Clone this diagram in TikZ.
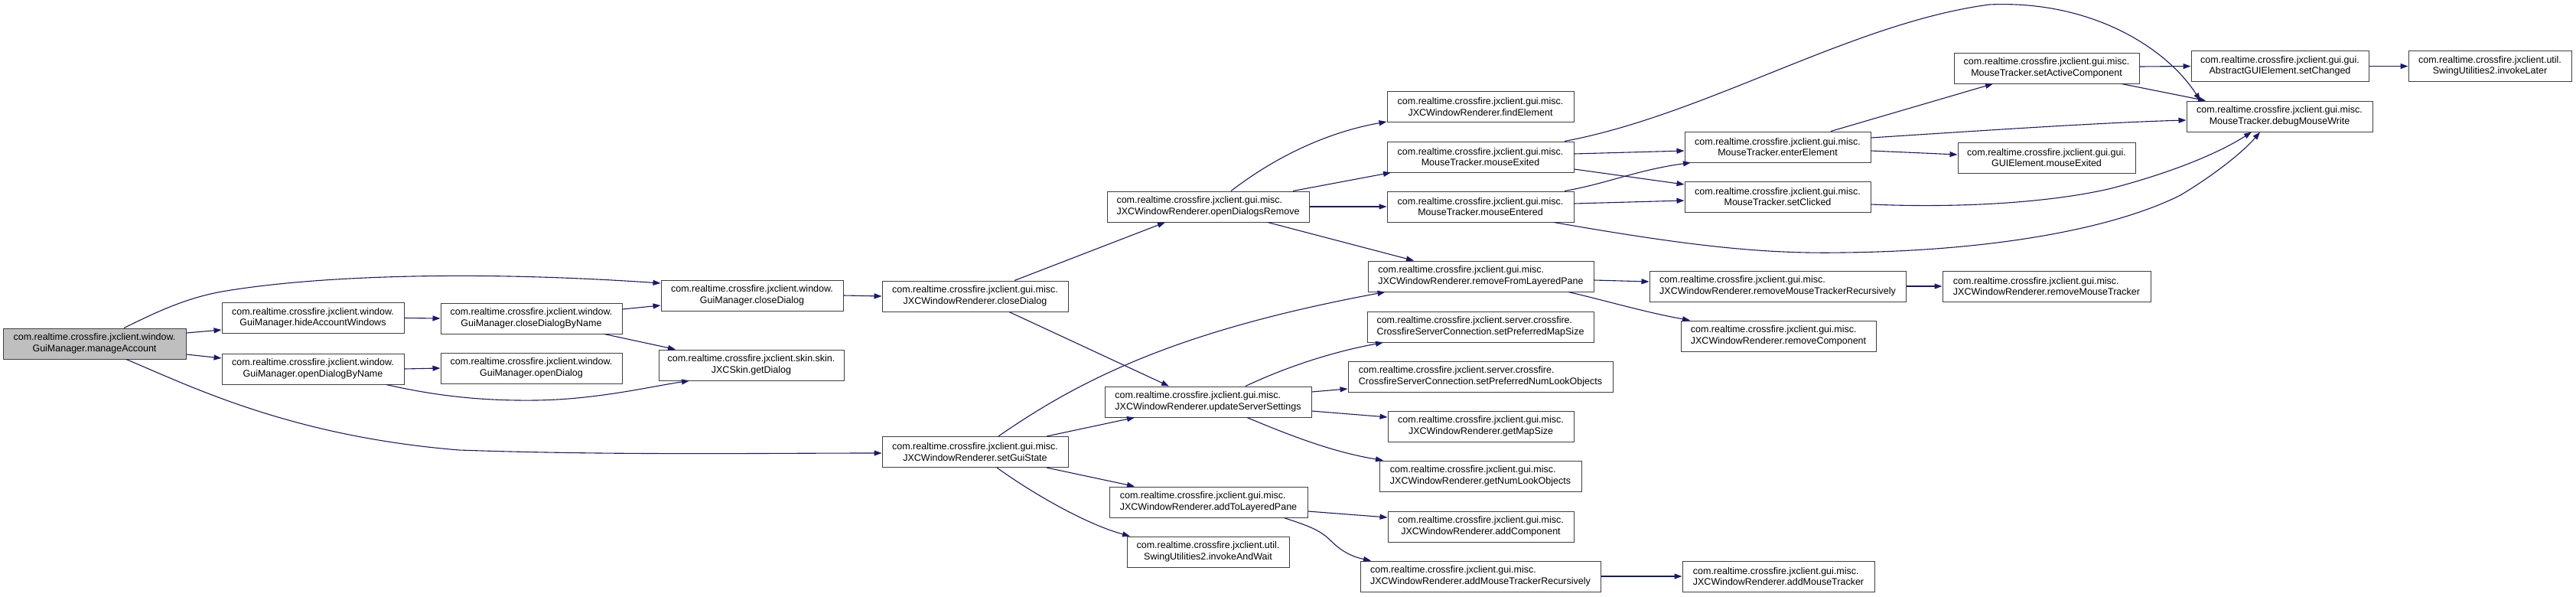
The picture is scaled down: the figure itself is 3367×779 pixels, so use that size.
\documentclass[tikz,border=0pt]{standalone}
\usepackage{fontspec}
\setmainfont{Liberation Sans}
\usetikzlibrary{arrows.meta}
\definecolor{edgec}{HTML}{191970}
\definecolor{rootfill}{HTML}{BFBFBF}
\begin{document}
\begin{tikzpicture}[x=1pt, y=-1pt,
  nbox/.style={draw=black!75, line width=1pt, fill=white, minimum height=40pt, inner sep=0pt,
    font=\fontsize{12.5}{14.5}\selectfont, align=center},
  lnbox/.style={nbox, align=left},
  rootbox/.style={nbox, fill=rootfill},
  conn/.style={draw=edgec, line width=1.1pt, -{Triangle[length=10pt,width=7pt]}}]
\useasboundingbox (0,0) rectangle (3367,779);

% column 1
\node[rootbox, minimum width=239pt] (MA) at (123.5,449) {com.realtime.crossfire.jxclient.window.\\GuiManager.manageAccount};
% column 2
\node[nbox, minimum width=238pt] (HAW) at (409,415.5) {com.realtime.crossfire.jxclient.window.\\GuiManager.hideAccountWindows};
\node[nbox, minimum width=238pt] (ODBN) at (409,482) {com.realtime.crossfire.jxclient.window.\\GuiManager.openDialogByName};
% column 3
\node[nbox, minimum width=237pt] (CDBN) at (694.5,416) {com.realtime.crossfire.jxclient.window.\\GuiManager.closeDialogByName};
\node[nbox, minimum width=237pt] (OD) at (694.5,481) {com.realtime.crossfire.jxclient.window.\\GuiManager.openDialog};
% column 4
\node[nbox, minimum width=238pt] (GMcD) at (983,386) {com.realtime.crossfire.jxclient.window.\\GuiManager.closeDialog};
\node[nbox, minimum width=242pt] (GD) at (982,477) {com.realtime.crossfire.jxclient.skin.skin.\\JXCSkin.getDialog};
% column 5
\node[nbox, minimum width=243pt] (JcD) at (1274.5,387) {com.realtime.crossfire.jxclient.gui.misc.\\JXCWindowRenderer.closeDialog};
\node[nbox, minimum width=243pt] (SGS) at (1274.5,590.5) {com.realtime.crossfire.jxclient.gui.misc.\\JXCWindowRenderer.setGuiState};
% column 6
\node[lnbox, minimum width=264pt] (ODR) at (1579,270) {com.realtime.crossfire.jxclient.gui.misc.\\JXCWindowRenderer.openDialogsRemove};
\node[lnbox, minimum width=270pt] (USS) at (1579,525) {com.realtime.crossfire.jxclient.gui.misc.\\JXCWindowRenderer.updateServerSettings};
\node[lnbox, minimum width=259pt] (ATLP) at (1579.5,656) {com.realtime.crossfire.jxclient.gui.misc.\\JXCWindowRenderer.addToLayeredPane};
\node[nbox, minimum width=212pt] (IAW) at (1579,721) {com.realtime.crossfire.jxclient.util.\\SwingUtilities2.invokeAndWait};
% column 7
\node[nbox, minimum width=244pt] (FE) at (1935,139.5) {com.realtime.crossfire.jxclient.gui.misc.\\JXCWindowRenderer.findElement};
\node[nbox, minimum width=244pt] (MEx) at (1935,205) {com.realtime.crossfire.jxclient.gui.misc.\\MouseTracker.mouseExited};
\node[nbox, minimum width=244pt] (MEn) at (1935,270) {com.realtime.crossfire.jxclient.gui.misc.\\MouseTracker.mouseEntered};
\node[lnbox, minimum width=295pt] (RFLP) at (1935.5,361) {com.realtime.crossfire.jxclient.gui.misc.\\JXCWindowRenderer.removeFromLayeredPane};
\node[lnbox, minimum width=296pt] (SPMS) at (1935,427) {com.realtime.crossfire.jxclient.server.crossfire.\\CrossfireServerConnection.setPreferredMapSize};
\node[lnbox, minimum width=346pt] (SPNLO) at (1935,492) {com.realtime.crossfire.jxclient.server.crossfire.\\CrossfireServerConnection.setPreferredNumLookObjects};
\node[nbox, minimum width=243pt] (GMS) at (1935.5,557) {com.realtime.crossfire.jxclient.gui.misc.\\JXCWindowRenderer.getMapSize};
\node[lnbox, minimum width=264pt] (GNLO) at (1935,622) {com.realtime.crossfire.jxclient.gui.misc.\\JXCWindowRenderer.getNumLookObjects};
\node[nbox, minimum width=243pt] (AC) at (1935.5,688) {com.realtime.crossfire.jxclient.gui.misc.\\JXCWindowRenderer.addComponent};
\node[lnbox, minimum width=314pt] (AMTR) at (1935,753) {com.realtime.crossfire.jxclient.gui.misc.\\JXCWindowRenderer.addMouseTrackerRecursively};
% column 8
\node[nbox, minimum width=243pt] (EE) at (2323.5,192) {com.realtime.crossfire.jxclient.gui.misc.\\MouseTracker.enterElement};
\node[nbox, minimum width=243pt] (SC) at (2323.5,257) {com.realtime.crossfire.jxclient.gui.misc.\\MouseTracker.setClicked};
\node[lnbox, minimum width=335pt] (RMTR) at (2323.5,374) {com.realtime.crossfire.jxclient.gui.misc.\\JXCWindowRenderer.removeMouseTrackerRecursively};
\node[lnbox, minimum width=255pt] (RC) at (2324.5,439) {com.realtime.crossfire.jxclient.gui.misc.\\JXCWindowRenderer.removeComponent};
\node[lnbox, minimum width=251pt] (AMT) at (2324.5,753) {com.realtime.crossfire.jxclient.gui.misc.\\JXCWindowRenderer.addMouseTracker};
% column 9
\node[nbox, minimum width=242pt] (SAC) at (2675,89) {com.realtime.crossfire.jxclient.gui.misc.\\MouseTracker.setActiveComponent};
\node[nbox, minimum width=232pt] (GEME) at (2675,206) {com.realtime.crossfire.jxclient.gui.gui.\\GUIElement.mouseExited};
\node[lnbox, minimum width=272pt] (RMT) at (2675,374) {com.realtime.crossfire.jxclient.gui.misc.\\JXCWindowRenderer.removeMouseTracker};
% column 10
\node[nbox, minimum width=232pt] (SCh) at (2980,86.5) {com.realtime.crossfire.jxclient.gui.gui.\\AbstractGUIElement.setChanged};
\node[nbox, minimum width=243pt] (DMW) at (2979.5,152) {com.realtime.crossfire.jxclient.gui.misc.\\MouseTracker.debugMouseWrite};
% column 11
\node[nbox, minimum width=213pt] (IL) at (3254.5,86.5) {com.realtime.crossfire.jxclient.util.\\SwingUtilities2.invokeLater};

% edges
\draw[conn] ([xshift=38.5pt]MA.north) .. controls (200,410) and (240,390) .. (290,381)
  .. controls (400,362) and (600,352) .. ([yshift=16pt]GMcD.west);
\draw[conn] ([yshift=14pt]MA.east) -- ([yshift=-15.5pt]HAW.west);
\draw[conn] ([yshift=-14pt]MA.east) -- ([yshift=14pt]ODBN.west);
\draw[conn] ([xshift=41.5pt]MA.south) .. controls (250,505) and (380,570) .. (600,588)
  .. controls (800,595) and (1000,592) .. ([yshift=-1.5pt]SGS.west);
\draw[conn] (HAW.east) -- (CDBN.west);
\draw[conn] (ODBN.east) -- (OD.west);
\draw[conn] ([xshift=96pt]ODBN.south) .. controls (560,515) and (620,524) .. (700,523)
  .. controls (780,522) and (850,505) .. ([xshift=-81pt]GD.south);
\draw[conn] ([yshift=12pt]CDBN.east) -- ([yshift=-13pt]GMcD.west);
\draw[conn] ([xshift=95.5pt]CDBN.south) -- ([xshift=-99pt]GD.north);
\draw[conn] (GMcD.east) -- (JcD.west);
\draw[conn] ([xshift=51.5pt]JcD.north) -- ([xshift=-56pt]ODR.south);
\draw[conn] ([xshift=44.5pt]JcD.south) -- ([xshift=-51pt]USS.north);
\draw[conn] ([xshift=30.5pt]SGS.north) .. controls (1420,490) and (1550,430) .. ([xshift=-125pt]RFLP.south);
\draw[conn] ([xshift=93.5pt]SGS.north) -- ([xshift=-96pt]USS.south);
\draw[conn] ([xshift=93.5pt]SGS.south) -- ([xshift=-96.5pt]ATLP.north);
\draw[conn] ([xshift=28.5pt]SGS.south) .. controls (1350,645) and (1420,685) .. ([xshift=-102pt]IAW.north);
\draw[conn] ([xshift=30pt]ODR.north) .. controls (1680,195) and (1750,170) .. ([yshift=-19.5pt]FE.west);
\draw[conn] ([xshift=111pt]ODR.north) -- ([xshift=-117pt]MEx.south);
\draw[conn] (ODR.east) -- (MEn.west);
\draw[conn] ([xshift=78pt]ODR.south) -- ([xshift=-87.5pt]RFLP.north);
\draw[conn] ([xshift=110pt]MEx.north) .. controls (2230,150) and (2420,30) .. (2600,6)
  .. controls (2730,0) and (2830,60) .. ([xshift=-103.5pt]DMW.north);
\draw[conn] ([yshift=4pt]MEx.east) -- ([yshift=-5pt]EE.west);
\draw[conn] ([yshift=-16pt]MEx.east) -- ([yshift=16pt]SC.west);
\draw[conn] ([xshift=110pt]MEn.north) .. controls (2100,240) and (2140,222) .. ([xshift=-113.5pt]EE.south);
\draw[conn] ([yshift=4pt]MEn.east) -- ([yshift=-5pt]SC.west);
\draw[conn] ([xshift=96pt]MEn.south) .. controls (2200,320) and (2300,332) .. (2408,330)
  .. controls (2600,328) and (2760,300) .. (2850,255)
  .. controls (2900,225) and (2935,195) .. ([xshift=-25.5pt]DMW.south);
\draw[conn] ([yshift=-5pt]RFLP.east) -- ([yshift=6pt]RMTR.west);
\draw[conn] ([xshift=114.5pt]RFLP.south) .. controls (2100,393) and (2150,408) .. ([xshift=-115.5pt]RC.north);
\draw[conn] ([xshift=69.5pt]EE.north) -- ([xshift=-70pt]SAC.south);
\draw[conn] ([yshift=12pt]EE.east) .. controls (2600,170) and (2750,160) .. ([yshift=-5pt]DMW.west);
\draw[conn] ([yshift=-5pt]EE.east) -- ([yshift=4pt]GEME.west);
\draw[conn] ([yshift=-10pt]SC.east) .. controls (2560,272) and (2680,265) .. (2760,246)
  .. controls (2840,225) and (2900,200) .. ([xshift=-36.5pt]DMW.south);
\draw[conn] ([yshift=2pt]SAC.east) -- (SCh.west);
\draw[conn] ([xshift=98pt]SAC.south) -- ([xshift=-96.5pt]DMW.north);
\draw[conn] (SCh.east) -- (IL.west);
\draw[conn] (RMTR.east) -- (RMT.west);
\draw[conn] ([xshift=49pt]USS.north) .. controls (1680,480) and (1740,460) .. ([xshift=-127pt]SPMS.south);
\draw[conn] ([yshift=13pt]USS.east) -- ([yshift=-16pt]SPNLO.west);
\draw[conn] ([yshift=-12pt]USS.east) -- ([yshift=12pt]GMS.west);
\draw[conn] ([xshift=51pt]USS.south) .. controls (1700,575) and (1750,592) .. ([xshift=-127pt]GNLO.north);
\draw[conn] ([yshift=-12pt]ATLP.east) -- ([yshift=12pt]AC.west);
\draw[conn] ([xshift=98.5pt]ATLP.south) .. controls (1710,687) and (1725,692) .. (1740,707)
  .. controls (1755,722) and (1770,728) .. ([xshift=-143pt]AMTR.north);
\draw[conn] (AMTR.east) -- (AMT.west);
\end{tikzpicture}
\end{document}
